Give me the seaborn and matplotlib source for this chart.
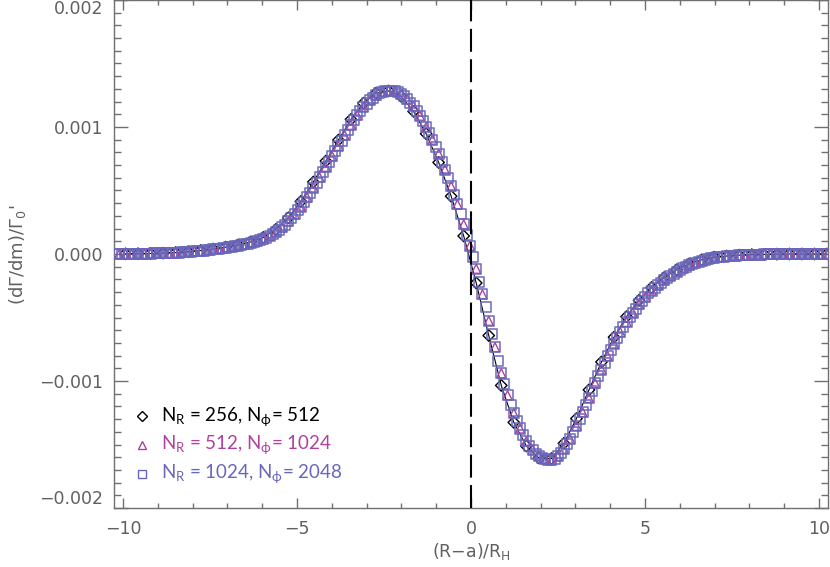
import numpy as np
import pandas as pd
import seaborn as sns
import matplotlib.pyplot as plt
from matplotlib.ticker import MultipleLocator, FuncFormatter

# torque density (dGamma/dm)/Gamma_0' in units of 1e-4
x_256 = np.linspace(-9.93, 10.23, 57)
dg_256 = [0.01, 0.02, 0.04, 0.07, 0.11, 0.18, 0.27, 0.39, 0.54, 0.71,
          0.95, 1.30, 1.93, 2.85, 4.14, 5.67, 7.32, 8.97, 10.60, 11.88,
          12.67, 12.84, 12.42, 11.23, 9.47, 7.21, 4.55, 1.42, -2.28, -6.42,
          -10.35, -13.26, -15.12, -16.06, -16.11, -14.91, -12.96, -10.70, -8.50, -6.55,
          -4.93, -3.64, -2.64, -1.86, -1.24, -0.78, -0.46, -0.25, -0.16, -0.09,
          -0.05, -0.03, -0.01, 0.00, 0.00, 0.00, 0.00]

x_512 = np.linspace(-10.11, 10.23, 114)
dg_512 = [0.00, 0.01, 0.01, 0.02, 0.02, 0.03, 0.04, 0.06, 0.08, 0.10,
          0.13, 0.16, 0.20, 0.24, 0.29, 0.36, 0.42, 0.50, 0.57, 0.66,
          0.76, 0.87, 1.00, 1.18, 1.43, 1.73, 2.09, 2.57, 3.12, 3.74,
          4.46, 5.23, 6.03, 6.86, 7.69, 8.51, 9.34, 10.17, 10.92, 11.58,
          12.12, 12.49, 12.74, 12.87, 12.81, 12.58, 12.19, 11.65, 10.89, 10.00,
          9.00, 7.89, 6.65, 5.33, 3.91, 2.33, 0.65, -1.16, -3.18, -5.26,
          -7.34, -9.39, -11.12, -12.54, -13.74, -14.74, -15.41, -15.88, -16.16, -16.23,
          -15.91, -15.34, -14.55, -13.54, -12.47, -11.34, -10.19, -9.10, -8.05, -7.05,
          -6.15, -5.35, -4.62, -3.97, -3.39, -2.88, -2.46, -2.06, -1.72, -1.40,
          -1.12, -0.90, -0.70, -0.53, -0.41, -0.31, -0.23, -0.18, -0.14, -0.10,
          -0.08, -0.05, -0.04, -0.03, -0.02, -0.01, -0.01, 0.00, 0.00, 0.00,
          0.00, 0.00, 0.00, 0.00]

x_1024 = np.linspace(-10.2, 10.23, 228)
dg_1024 = [0.00, 0.00, 0.01, 0.01, 0.01, 0.01, 0.02, 0.02, 0.02, 0.02,
           0.03, 0.03, 0.04, 0.04, 0.05, 0.06, 0.07, 0.08, 0.09, 0.10,
           0.11, 0.13, 0.14, 0.16, 0.18, 0.20, 0.22, 0.24, 0.27, 0.29,
           0.32, 0.36, 0.39, 0.42, 0.46, 0.50, 0.54, 0.57, 0.62, 0.66,
           0.71, 0.76, 0.81, 0.87, 0.94, 1.00, 1.09, 1.18, 1.28, 1.43,
           1.57, 1.73, 1.91, 2.09, 2.32, 2.57, 2.82, 3.12, 3.43, 3.74,
           4.10, 4.46, 4.83, 5.23, 5.62, 6.03, 6.44, 6.86, 7.27, 7.69,
           8.10, 8.51, 8.93, 9.34, 9.76, 10.17, 10.56, 10.92, 11.28, 11.58,
           11.85, 12.12, 12.31, 12.49, 12.66, 12.74, 12.82, 12.87, 12.84, 12.81,
           12.72, 12.58, 12.43, 12.19, 11.92, 11.65, 11.27, 10.89, 10.49, 10.00,
           9.52, 9.00, 8.44, 7.89, 7.28, 6.65, 6.02, 5.33, 4.62, 3.91,
           3.12, 2.33, 1.51, 0.65, -0.22, -1.16, -2.17, -3.18, -4.21, -5.26,
           -6.30, -7.34, -8.39, -9.39, -10.26, -11.12, -11.89, -12.54, -13.18, -13.74,
           -14.24, -14.74, -15.09, -15.41, -15.72, -15.88, -16.04, -16.16, -16.20, -16.23,
           -16.13, -15.91, -15.70, -15.34, -14.95, -14.55, -14.05, -13.54, -13.03, -12.47,
           -11.91, -11.34, -10.77, -10.19, -9.64, -9.10, -8.56, -8.05, -7.55, -7.05,
           -6.60, -6.15, -5.72, -5.35, -4.97, -4.62, -4.30, -3.97, -3.68, -3.39,
           -3.10, -2.88, -2.66, -2.46, -2.26, -2.06, -1.88, -1.72, -1.55, -1.40,
           -1.26, -1.12, -1.00, -0.90, -0.79, -0.70, -0.61, -0.53, -0.46, -0.41,
           -0.35, -0.31, -0.26, -0.23, -0.21, -0.18, -0.16, -0.14, -0.12, -0.10,
           -0.09, -0.08, -0.07, -0.05, -0.05, -0.04, -0.04, -0.03, -0.03, -0.02,
           -0.02, -0.01, -0.01, -0.01, 0.00, 0.00, 0.00, 0.00, 0.00, 0.00,
           0.00, 0.00, 0.00, 0.00, 0.00, 0.00, 0.00, 0.00]

labels = [r"N$_\mathregular{R}$ = 256, N$_\mathregular{\phi}$= 512",
          r"N$_\mathregular{R}$ = 512, N$_\mathregular{\phi}$= 1024",
          r"N$_\mathregular{R}$ = 1024, N$_\mathregular{\phi}$= 2048"]
colors = ['black', '#b0409f', '#6767bb']
markers = ['D', '^', 's']
xticks = [-10, -5, 0, 5, 10]
yticks = [-0.002, -0.001, 0.0, 0.001, 0.002]

sns.set_style('ticks')
plt.rcParams['font.family'] = ['DejaVu Sans']
plt.rcParams['mathtext.fontset'] = 'dejavusans'

W, H = 830, 567
fig = plt.figure(figsize=(W / 100, H / 100), dpi=100)
ax = fig.add_axes([114 / W, 1 - 508 / H, 714 / W, 508 / H])

sc = 1e-4
sns.lineplot(x=x_256, y=np.array(dg_256) * sc, color='black', lw=0.8, ax=ax, zorder=2)
sns.scatterplot(x=x_256, y=np.array(dg_256) * sc, marker='D', s=34, fc='none',
                ec=colors[0], linewidth=1.0, ax=ax, zorder=3)
sns.scatterplot(x=x_512, y=np.array(dg_512) * sc, marker='^', s=42, fc='none',
                ec=colors[1], linewidth=1.0, ax=ax, zorder=4)
sns.scatterplot(x=x_1024, y=np.array(dg_1024) * sc, marker='s', s=52, fc='none',
                ec=colors[2], linewidth=1.2, alpha=0.9, ax=ax, zorder=5)
ax.axvline(0, color='black', lw=1.5, ls=(0, (11, 3.6)), zorder=7)

ax.set_xlim(-10.26, 10.26)
ax.set_ylim(-0.002, 0.002)
ax.set_xticks(xticks)
ax.set_yticks(yticks)
ax.xaxis.set_minor_locator(MultipleLocator(1))
ax.yaxis.set_minor_locator(MultipleLocator(0.0001))
ax.xaxis.set_major_formatter(FuncFormatter(lambda v, p: f"{v:.0f}".replace('-', '\u2212')))
ax.yaxis.set_major_formatter(FuncFormatter(lambda v, p: f"{v:.3f}".replace('-', '\u2212')))

gray = '#606060'
for s in ax.spines.values():
    s.set_color('#707070')
    s.set_linewidth(1.0)
ax.tick_params(which='both', direction='in', top=True, right=True, color='#707070',
               labelcolor=gray, labelsize=12.5, width=1.0)
ax.tick_params(axis='y', which='major', length=10, pad=8)
ax.tick_params(axis='y', which='minor', length=5)
ax.tick_params(axis='x', which='major', length=7, pad=8.5)
ax.tick_params(axis='x', which='minor', length=3.5)
ymaj = ax.yaxis.get_major_ticks()
ymaj[-1].label1.set_va('top')
ymaj[0].label1.set_va('bottom')

fig.text(471 / W, 1 - 551 / H, r"(R$-$a)/R$_\mathregular{H}$", ha='center', va='center',
         color=gray, fontsize=12.5)
fig.text(18 / W, 1 - 255 / H, r"(d$\mathregular{\Gamma}$/dm)/$\mathregular{\Gamma}_\mathregular{0}$'",
         ha='center', va='center', rotation=90, color=gray, fontsize=13)

# legend
rows = [421.7, 450, 479]
for lab, col, mk, yb in zip(labels, colors, markers, rows):
    ax.plot([142 / W], [1 - (yb - 5.5) / H], marker=mk, ms=5.5 if mk != 'D' else 5,
            mfc='none', mec=col, mew=1.0, transform=fig.transFigure, clip_on=False)
    fig.text(161 / W, 1 - yb / H, lab, ha='left', va='baseline', color=col,
             fontsize=13.5, family=['Lato', 'DejaVu Sans'])

plt.savefig('out.png', dpi=100)
